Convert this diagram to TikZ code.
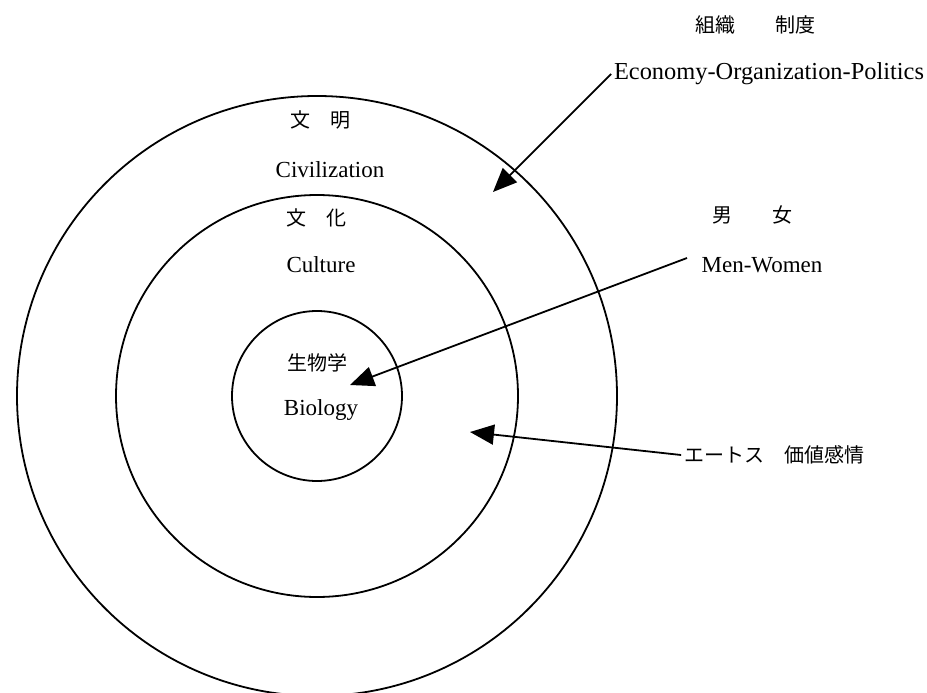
\documentclass[tikz,border=0pt]{standalone}
\usepackage{fontspec}
\setmainfont{Liberation Serif}
\newfontfamily\jpfont{Noto Sans CJK JP}
\usetikzlibrary{arrows.meta}
\tikzset{
  lbl/.style={font=\fontsize{23}{26}\selectfont, inner sep=2pt},
  jlbl/.style={font=\jpfont\fontsize{20}{24}\selectfont, inner sep=2pt},
  arr/.style={line width=1.8pt, -{Triangle[length=24pt,width=20pt]}}
}
\begin{document}
\begin{tikzpicture}[x=1pt,y=-1pt,line width=1.8pt]
  \useasboundingbox (0,0) rectangle (927,693);

      \coordinate (O) at (317,396);
      \draw (O) circle[radius=300pt];
      \draw (O) circle[radius=201pt];
      \draw (O) circle[radius=85pt];

      % labels inside the rings
      \node[jlbl] (civj) at (320,120) {文　明};
      \node[lbl]  (civ)  at (330,170) {Civilization};
      \node[jlbl] (culj) at (316,218) {文　化};
      \node[lbl]  (cul)  at (321,265) {Culture};
      \node[jlbl] (bioj) at (317,363) {生物学};
      \node[lbl]  (bio)  at (321,410) {Biology};

      % labels on the right
      \node[jlbl] (ecoj) at (755,25)  {組織　　制度};
      \node[lbl,font=\fontsize{24.4}{28}\selectfont] (eco) at (769,74) {Economy-Organization-Politics};
      \node[jlbl] (mwj)  at (752,215) {男　　女};
      \node[lbl]  (mw)   at (762,265) {Men-Women};
      \node[jlbl] (eth)  at (774,455) {エートス　価値感情};

      % arrow tips
      \coordinate (t1) at (493,192);
      \coordinate (s2) at (687,258);
      \coordinate (t2) at (350,385);
      \coordinate (t3) at (470,432);
      \draw[arr] (eco.west) -- (t1);
      \draw[arr] (s2) -- (t2);
      \draw[arr] (eth.west) -- (t3);
  \end{tikzpicture}
\end{document}
